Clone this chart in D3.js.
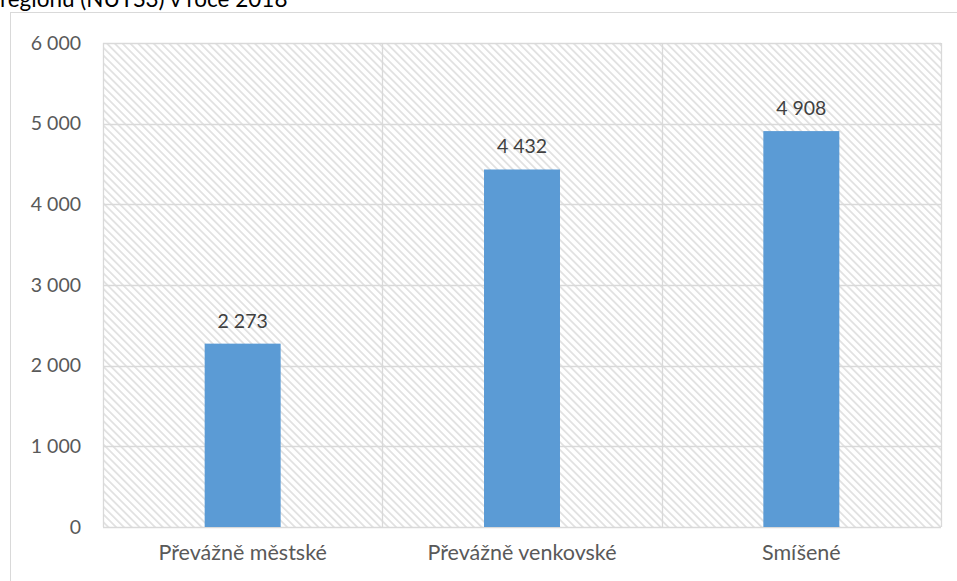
<!DOCTYPE html>
<html><head><meta charset="utf-8">
<script src="https://cdn.jsdelivr.net/npm/d3@7"></script>
<style>html,body{margin:0;padding:0;background:#fff;overflow:hidden}</style>
</head><body>
<svg id="c" width="957" height="581"></svg>
<script>
const titleText = "regionu (NUTS3) v roce 2018";
const categories = ["Převážně městské", "Převážně venkovské", "Smíšené"];
const values = [2273, 4432, 4908];
const yTicks = [0, 1000, 2000, 3000, 4000, 5000, 6000];

const W = 957, H = 581;
const m = {left: 103, right: 16, top: 43, bottom: 54};
const svg = d3.select("#c");
const font = "Lato, 'Open Sans', sans-serif";
const locale = d3.formatLocale({decimal: ",", thousands: "\u00a0", grouping: [3], currency: ["", " Kč"]});
const fmt = locale.format(",d");

const defs = svg.append("defs");
const pat = defs.append("pattern").attr("id", "hatch").attr("patternUnits", "userSpaceOnUse")
  .attr("width", 5.5).attr("height", 5.5).attr("patternTransform", "rotate(-45)");
pat.append("rect").attr("width", 5.5).attr("height", 5.5).attr("fill", "#fff");
pat.append("rect").attr("x", 0).attr("y", 0).attr("width", 1.7).attr("height", 5.5).attr("fill", "#e0e0e0");

// outer chart border
svg.append("rect").attr("x", 10.5).attr("y", 12.5).attr("width", W + 20).attr("height", H + 20)
  .attr("fill", "none").attr("stroke", "#d9d9d9").attr("stroke-width", 1);

svg.append("text").attr("x", 0).attr("y", 7).attr("font-family", font).attr("font-size", 22.5)
  .attr("fill", "#000").text(titleText);

const x = d3.scaleBand().domain(categories).range([m.left, W - m.right]).padding(0);
const y = d3.scaleLinear().domain([0, 6000]).range([H - m.bottom, m.top]);

// plot background hatch
svg.append("rect").attr("x", m.left).attr("y", m.top).attr("width", x.range()[1] - m.left)
  .attr("height", y(0) - m.top).attr("fill", "url(#hatch)");

// horizontal gridlines
svg.append("g").selectAll("line").data(yTicks).join("line")
  .attr("x1", m.left).attr("x2", W - m.right)
  .attr("y1", d => Math.round(y(d)) + 0.5).attr("y2", d => Math.round(y(d)) + 0.5)
  .attr("stroke", "#d9d9d9").attr("stroke-width", 1.3);

// vertical gridlines at band boundaries
const bounds = categories.map(c => x(c)).concat([W - m.right]);
svg.append("g").selectAll("line").data(bounds).join("line")
  .attr("x1", d => Math.round(d) + 0.5).attr("x2", d => Math.round(d) + 0.5)
  .attr("y1", m.top).attr("y2", y(0))
  .attr("stroke", "#d9d9d9").attr("stroke-width", 1.3);

// bars
const bw = x.bandwidth() * 0.272;
svg.append("g").selectAll("rect").data(values).join("rect")
  .attr("x", (d, i) => x(categories[i]) + x.bandwidth() / 2 - bw / 2)
  .attr("y", d => y(d)).attr("width", bw).attr("height", d => y(0) - y(d))
  .attr("fill", "#5b9bd5");

// data labels
svg.append("g").selectAll("text").data(values).join("text")
  .attr("x", (d, i) => x(categories[i]) + x.bandwidth() / 2)
  .attr("y", d => y(d) - 16).attr("text-anchor", "middle")
  .attr("font-family", font).attr("font-size", 19.5).attr("fill", "#404040")
  .text(d => fmt(d));

// y axis
const yAxis = d3.axisLeft(y).tickValues(yTicks).tickSize(0).tickPadding(22).tickFormat(fmt);
const gy = svg.append("g").attr("transform", `translate(${m.left},0)`).call(yAxis);
gy.select(".domain").remove();
gy.selectAll("text").attr("font-family", font).attr("font-size", 19.5).attr("fill", "#595959");

// x axis
const xAxis = d3.axisBottom(x).tickSize(0).tickPadding(18);
const gx = svg.append("g").attr("transform", `translate(0,${y(0)})`).call(xAxis);
gx.select(".domain").remove();
gx.selectAll("text").attr("font-family", font).attr("font-size", 21.5).attr("fill", "#595959");
</script>
</body></html>
